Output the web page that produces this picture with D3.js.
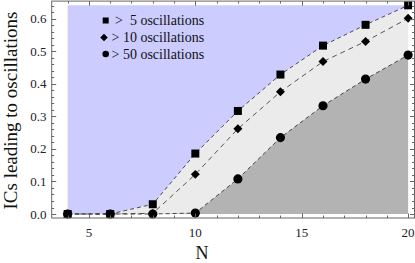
<!DOCTYPE html>
<html><head><meta charset="utf-8">
<script src="https://cdn.jsdelivr.net/npm/d3@7"></script>
<style>body{margin:0;background:#fff}svg{display:block}text{font-family:"Liberation Serif","Times New Roman",serif}</style>
</head><body><div id="chart"></div>
<script>
const N = [4, 6, 8, 10, 12, 14, 16, 18, 20];
const gt5 = [0, 0, 0.030, 0.186, 0.317, 0.429, 0.518, 0.582, 0.642];
const gt10 = [0, 0, 0.002, 0.122, 0.262, 0.376, 0.469, 0.531, 0.602];
const gt50 = [0, 0, 0, 0.003, 0.108, 0.235, 0.333, 0.415, 0.489];
const xTicks = [5, 10, 15, 20];
const yTicks = [0, 0.1, 0.2, 0.3, 0.4, 0.5, 0.6];
const legendLabels = [">  5 oscillations", "> 10 oscillations", "> 50 oscillations"];

const W = 415, H = 263;
const svg = d3.select("#chart").append("svg").attr("width", W).attr("height", H);
const x = d3.scaleLinear().domain([3.25, 20.3]).range([51.7, 414.5]);
const y = d3.scaleLinear().domain([-0.0123, 0.655]).range([218, 1.1]);
const L = x.range()[0], R = x.range()[1], B = y.range()[0], T = y.range()[1];

const pts = s => N.map((n, i) => [n, s[i]]);
const maxVal = d3.max(gt5);

// fills
const area = (upper, lower) => d3.area().x(d => x(d[0])).y0(d => y(d[2])).y1(d => y(d[1]))(N.map((n, i) => [n, upper[i], lower[i]]));
const topArr = N.map(() => maxVal), zeroArr = N.map(() => 0);
svg.append("path").attr("d", area(topArr, gt5)).attr("fill", "#ccccff");
svg.append("path").attr("d", area(gt5, gt50)).attr("fill", "#ebebeb");
svg.append("path").attr("d", area(gt50, zeroArr)).attr("fill", "#b3b3b3");

// lines
const line = d3.line().x(d => x(d[0])).y(d => y(d[1]));
svg.append("path").attr("d", line(pts(gt5))).attr("fill", "none").attr("stroke", "#222").attr("stroke-width", 0.8).attr("stroke-dasharray", "4,3");
svg.append("path").attr("d", line(pts(gt10))).attr("fill", "none").attr("stroke", "#444").attr("stroke-width", 0.9).attr("stroke-dasharray", "5,4");
svg.append("path").attr("d", line(pts(gt50))).attr("fill", "none").attr("stroke", "#222").attr("stroke-width", 0.8).attr("stroke-dasharray", "4,3");

// markers
const sq = d3.symbol().type(d3.symbolSquare).size(64);
const dm = d3.symbol().type(d3.symbolSquare).size(40);
const ci = d3.symbol().type(d3.symbolCircle).size(66);
const drawM = (s, sym, rot) => svg.append("g").selectAll("path").data(pts(s)).join("path")
  .attr("d", sym).attr("transform", d => `translate(${x(d[0])},${y(d[1])}) rotate(${rot})`).attr("fill", "#000");
drawM(gt5, sq, 0); drawM(gt10, dm, 45); drawM(gt50, ci, 0);

// frame
const fg = svg.append("g").attr("stroke", "#666").attr("stroke-width", 1).attr("fill", "none");
fg.append("rect").attr("x", L).attr("y", T).attr("width", R - L).attr("height", B - T);
const xMinor = d3.range(4, 21, 1);
const yMinor = d3.range(0, 0.65, 0.02);
xMinor.forEach(v => {
  const big = xTicks.includes(v); const len = big ? 4.5 : 2.5; const px = Math.round(x(v)) + 0.5;
  fg.append("line").attr("x1", px).attr("x2", px).attr("y1", B).attr("y2", B - len);
  fg.append("line").attr("x1", px).attr("x2", px).attr("y1", T).attr("y2", T + len);
});
yMinor.forEach(v => {
  const big = yTicks.some(t => Math.abs(t - v) < 1e-6); const len = big ? 4.5 : 2.5; const py = Math.round(y(v)) + 0.5;
  fg.append("line").attr("x1", L).attr("x2", L + len).attr("y1", py).attr("y2", py);
  fg.append("line").attr("x1", R).attr("x2", R - len).attr("y1", py).attr("y2", py);
});

// tick labels
svg.append("g").selectAll("text").data(xTicks).join("text")
  .attr("x", d => x(d)).attr("y", 236.5).attr("text-anchor", "middle").attr("font-size", 13).attr("fill", "#222").text(d => d);
svg.append("g").selectAll("text").data(yTicks).join("text")
  .attr("x", 46.5).attr("y", d => y(d) + 4.5).attr("text-anchor", "end").attr("font-size", 13).attr("fill", "#222").text(d => d.toFixed(1));

// axis titles
svg.append("text").attr("x", 202).attr("y", 259).attr("text-anchor", "middle").attr("font-size", 18).attr("fill", "#111").text("N");
svg.append("text").attr("transform", `translate(17,${(T + B) / 2 + 1}) rotate(-90)`).attr("text-anchor", "middle").attr("font-size", 19).attr("fill", "#111").text("ICs leading to oscillations");

// legend
const lsyms = [d3.symbol().type(d3.symbolSquare).size(36)(), d3.symbol().type(d3.symbolSquare).size(28)(), d3.symbol().type(d3.symbolCircle).size(34)()];
const lrot = [0, 45, 0];
const ly = [20.5, 37.5, 54];
const lx = [105.7, 104, 105.7];
legendLabels.forEach((t, i) => {
  svg.append("path").attr("d", lsyms[i]).attr("transform", `translate(${lx[i]},${ly[i]}) rotate(${lrot[i]})`).attr("fill", "#000");
  svg.append("text").attr("x", i === 0 ? 115 : 111.5).attr("y", ly[i] + 4.5).attr("font-size", 14).attr("fill", "#111").style("white-space", "pre").text(t);
});
</script></body></html>
